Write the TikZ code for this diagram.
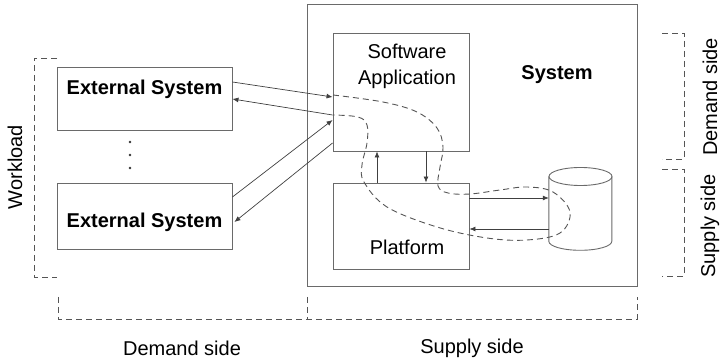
\documentclass[tikz,border=0pt]{standalone}
\usepackage{fontspec}
\setmainfont{Liberation Sans}
\usetikzlibrary{arrows.meta}
\definecolor{linegray}{HTML}{6A6A6A}
\definecolor{dashgray}{HTML}{555555}
\tikzset{
  box/.style={draw=linegray, line width=0.9pt, inner sep=0pt},
  arr/.style={draw=black!75, line width=0.7pt, -{Latex[length=6pt,width=5pt]}},
  dsh/.style={draw=dashgray, line width=0.9pt, dash pattern=on 6pt off 4pt},
  lbl/.style={font=\fontsize{20}{24}\selectfont, inner sep=0pt},
  dotmark/.style={circle, fill=black!80, inner sep=0pt, minimum size=2.6pt},
}
\begin{document}
\begin{tikzpicture}[x=1pt,y=1pt]
\useasboundingbox (0,0) rectangle (721,-363);
% system
\node[box, minimum width=330pt, minimum height=282pt] (sys) at (472,-145) {};
\node[lbl, font=\fontsize{20}{24}\selectfont\bfseries] (systxt) at (557,-75) {System};
% external systems
\node[box, minimum width=175pt, minimum height=63pt] (ext1) at (144.5,-98.5) {};
\node[lbl, font=\fontsize{20}{24}\selectfont\bfseries] (ext1t) at (144.5,-89) {External System};
\node[box, minimum width=175pt, minimum height=66pt] (ext2) at (144.5,-216) {};
\node[lbl, font=\fontsize{20}{24}\selectfont\bfseries] (ext2t) at (144.5,-222) {External System};
\node[dotmark] (dot1) at (130,-142) {};
\node[dotmark] (dot2) at (130,-155) {};
\node[dotmark] (dot3) at (130,-168) {};
% app and platform
\node[box, minimum width=136pt, minimum height=118pt] (app) at (401,-92) {};
\node[lbl, align=center, font=\fontsize{20}{26}\selectfont] (appt) at (407,-66) {Software\\Application};
\node[box, minimum width=136pt, minimum height=86pt] (plat) at (401,-226) {};
\node[lbl] (platt) at (407,-247) {Platform};
% database
\node[minimum width=63pt, minimum height=83pt, inner sep=0pt] (db) at (580.5,-208.5) {};
\draw[linegray, line width=0.9pt] (db.north west) ++(0,-9.5) coordinate (dbtl)
  -- ++(0,-65) arc[start angle=180,end angle=360,x radius=31.5pt,y radius=9pt] -- ++(0,65);
\draw[linegray, line width=0.9pt] (580.5,-176.5) ellipse [x radius=31.5pt, y radius=9pt];
% arrows external <-> app
\draw[arr] ([yshift=16.5pt]ext1.east) -- ([yshift=-5pt]app.west);
\draw[arr] ([yshift=-23pt]app.west) -- ([yshift=-0.5pt]ext1.east);
\draw[arr] ([yshift=19pt]ext2.east) -- ([yshift=-28pt]app.west);
\draw[arr] ([yshift=-51pt]app.west) -- ([xshift=2pt,yshift=-6pt]ext2.east);
% app <-> platform
\draw[arr] ([xshift=-24pt]plat.north) -- ([xshift=-24pt]app.south);
\draw[arr] ([xshift=25pt]app.south) -- ([xshift=25pt]plat.north);
% platform <-> db
\draw[arr] ([yshift=28pt]plat.east) -- ([yshift=10.5pt]db.west);
\draw[arr] ([yshift=-20.5pt]db.west) -- ([yshift=-3pt]plat.east);
% dashed path
\draw[dsh] plot[smooth, tension=0.6] coordinates {
 (333,-95) (383,-102) (417,-112) (437,-128) (443,-147) (440,-167) (438,-186)
 (448,-193) (470,-194) (500,-190) (527,-187) (553,-192) (570,-212) (560,-233)
 (527,-240) (487,-238) (437,-227) (387,-207) (364,-182) (362,-165) (367,-143)
 (367,-125) (358,-117) (333,-115)};
% brackets
\draw[dsh] (57,-58) -- (34,-58) -- (34,-277) -- (57,-277);
\draw[dsh] (58,-297) -- (58,-319) -- (637,-319) -- (637,-297);
\draw[dsh] (307,-297) -- (307,-319);
\draw[dsh] (662,-33) -- (684,-33) -- (684,-159) -- (662,-159);
\draw[dsh] (662,-169) -- (684,-169) -- (684,-276) -- (662,-276);
% labels
\node[lbl, rotate=90] (wl) at (15,-167) {Workload};
\node[lbl] (ds) at (182,-348) {Demand side};
\node[lbl] (ss) at (472,-348) {Supply side};
\node[lbl, rotate=90] (rds) at (710,-97) {Demand side};
\node[lbl, rotate=90] (rss) at (710,-226) {Supply side};
\end{tikzpicture}
\end{document}
